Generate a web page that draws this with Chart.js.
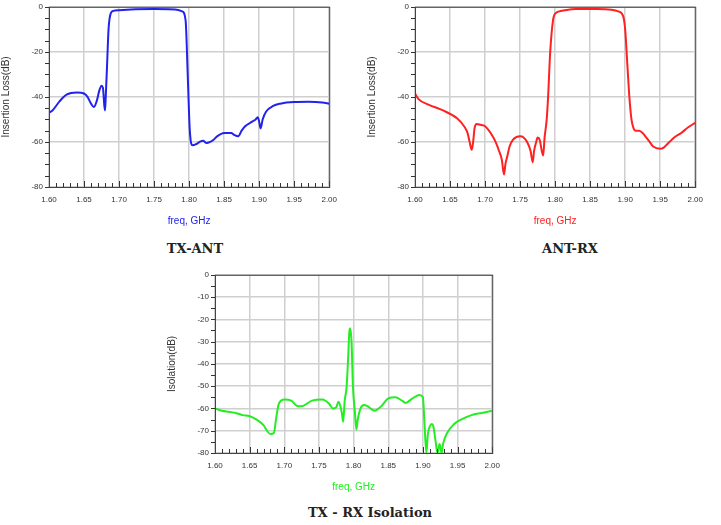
<!DOCTYPE html>
<html>
<head>
<meta charset="utf-8">
<script src="https://cdn.jsdelivr.net/npm/chart.js@4"></script>
<style>
  body { margin: 0; background: #fff; width: 721px; height: 525px; position: relative; overflow: hidden; }
  .box { position: absolute; }
  .cap { position: absolute; font-family: "DejaVu Serif", serif; font-weight: bold; font-size: 13px; color: #222; transform: translateX(-50%); white-space: nowrap; }
</style>
</head>
<body>
<div class="box" style="left:0;top:-4px;width:345px;height:235px"><canvas id="txAnt"></canvas></div>
<div class="box" style="left:366px;top:-4px;width:345px;height:235px"><canvas id="antRx"></canvas></div>
<div class="box" style="left:166px;top:264px;width:342px;height:233px"><canvas id="iso"></canvas></div>
<div class="cap" style="left:195px;top:241px">TX-ANT</div>
<div class="cap" style="left:570px;top:241px">ANT-RX</div>
<div class="cap" style="left:370px;top:505px">TX - RX Isolation</div>
<script>
// dados (freq em GHz, valores em dB)
const txAntFreq = [1.600,1.605,1.615,1.625,1.640,1.650,1.655,1.660,1.664,1.668,1.672,1.675,1.677,1.679,1.680,1.681,1.683,1.685,1.688,1.692,1.700,1.750,1.780,1.790,1.795,1.798,1.801,1.805,1.810,1.815,1.820,1.825,1.830,1.835,1.840,1.850,1.860,1.865,1.870,1.875,1.880,1.890,1.895,1.898,1.900,1.902,1.905,1.910,1.920,1.930,1.950,1.970,1.990,2.000];
const txAntLoss = [-47,-46,-42,-39,-38,-38.5,-40,-43,-44.5,-42,-37,-35,-36,-44,-46,-40,-25,-10,-3,-1.8,-1.5,-1.0,-1.2,-2,-6,-30,-55,-61.5,-61,-60,-59.5,-60.5,-60,-59,-57.5,-56,-56,-57,-57.5,-55,-53,-51,-50,-49,-51,-54,-50,-46.5,-44,-43,-42.3,-42.2,-42.5,-43];

const antRxFreq = [1.600,1.605,1.620,1.640,1.660,1.670,1.675,1.678,1.681,1.683,1.685,1.688,1.695,1.700,1.710,1.715,1.720,1.724,1.727,1.729,1.732,1.735,1.740,1.750,1.755,1.760,1.765,1.768,1.770,1.773,1.775,1.778,1.781,1.783,1.785,1.788,1.790,1.793,1.797,1.800,1.810,1.830,1.860,1.880,1.890,1.897,1.900,1.903,1.906,1.909,1.912,1.915,1.920,1.925,1.930,1.935,1.940,1.950,1.955,1.960,1.970,1.980,1.990,2.000];
const antRxLoss = [-38.5,-41,-43.5,-46,-49.5,-53,-56,-60,-63.5,-60,-54,-52,-52.5,-53,-57,-60,-64,-68,-74.5,-70,-66,-62,-59,-57.5,-58,-60,-64,-69,-64,-60,-58,-59,-64,-66,-58,-50,-40,-20,-6,-3,-1.8,-1,-1,-1.3,-2,-4,-10,-25,-40,-50,-54,-55,-55,-56,-58,-60,-62,-63,-62.5,-61,-58,-56,-53.5,-51.5];

const isoFreq = [1.600,1.610,1.620,1.630,1.640,1.650,1.660,1.670,1.675,1.680,1.685,1.688,1.692,1.700,1.710,1.720,1.725,1.740,1.755,1.765,1.770,1.775,1.778,1.780,1.783,1.785,1.787,1.790,1.792,1.794,1.795,1.797,1.799,1.802,1.804,1.806,1.810,1.815,1.820,1.830,1.840,1.850,1.860,1.870,1.875,1.885,1.895,1.900,1.902,1.905,1.907,1.910,1.913,1.915,1.918,1.921,1.924,1.927,1.929,1.935,1.945,1.955,1.970,1.985,2.000];
const isoDb = [-60,-61,-61.5,-62,-63,-63.5,-65,-67.5,-70,-71.5,-71,-65,-58,-56,-56.5,-59,-59,-56.5,-56,-58,-60,-59.5,-57,-58,-62,-66,-57,-50,-38,-25,-24,-30,-50,-62,-69.5,-65,-60,-58.5,-59,-61,-59,-55.5,-55,-56.5,-57.5,-55.5,-54,-55,-65,-80,-72,-68,-67,-68,-74,-80,-76,-80,-76,-71,-67,-65,-63,-62,-61];

const xTicks = [1.60,1.65,1.70,1.75,1.80,1.85,1.90,1.95,2.00];

// marquinhas menores nos eixos
const minorTicks = {
    id: 'minorTicks',
    afterDraw(chart) {
        const ctx = chart.ctx, x = chart.scales.x, y = chart.scales.y;
        ctx.save();
        ctx.strokeStyle = '#333';
        ctx.lineWidth = 1;
        ctx.beginPath();
        for (let i = 0; i <= 40; i++) {
            const px = Math.round(x.getPixelForValue(1.6 + i * 0.01)) + 0.5;
            ctx.moveTo(px, y.bottom);
            ctx.lineTo(px, y.bottom - (i % 5 === 0 ? 6 : 4));
        }
        for (let v = 0; v >= -80; v -= 5) {
            const py = Math.round(y.getPixelForValue(v)) + 0.5;
            ctx.moveTo(x.left, py);
            ctx.lineTo(x.left - 4, py);
        }
        ctx.stroke();
        ctx.strokeStyle = '#444';
        ctx.strokeRect(x.left + 0.5, y.top + 0.5, x.right - x.left, y.bottom - y.top);
        ctx.restore();
    }
};

function makeChart(id, freq, vals, color, yTitle, yStep) {
    const points = freq.map((f, i) => ({ x: f, y: vals[i] }));
    new Chart(document.getElementById(id), {
        type: 'line',
        data: { datasets: [{ data: points, borderColor: color, borderWidth: 2, pointRadius: 0, cubicInterpolationMode: 'monotone' }] },
        plugins: [minorTicks],
        options: {
            responsive: true,
            maintainAspectRatio: false,
            animation: false,
            layout: { padding: { top: 3, right: 11, left: 0, bottom: 0 } },
            plugins: { legend: { display: false }, tooltip: { enabled: false } },
            scales: {
                x: {
                    type: 'linear', min: 1.6, max: 2.0,
                    afterBuildTicks: s => { s.ticks = xTicks.map(v => ({ value: v })); },
                    afterFit: s => { s.height = 44; },
                    grid: { color: '#cfcfcf', lineWidth: 1.5, drawTicks: false },
                    border: { display: false },
                    ticks: { padding: 8, font: { family: 'Liberation Sans', size: 8 }, color: '#333', maxRotation: 0, callback: v => v.toFixed(2) },
                    title: { display: true, text: 'freq, GHz', color: color, font: { family: 'Liberation Sans', size: 10 }, padding: { top: 4 } }
                },
                y: {
                    min: -80, max: 0,
                    ticks: { stepSize: yStep, padding: 6, font: { family: 'Liberation Sans', size: 8 }, color: '#333' },
                    afterFit: s => { s.width = 49; },
                    grid: { color: '#cfcfcf', lineWidth: 1.5, drawTicks: false },
                    border: { display: false },
                    title: { display: true, text: yTitle, color: '#333', font: { family: 'Liberation Sans', size: 10 }, padding: 0 }
                }
            }
        }
    });
}

makeChart('txAnt', txAntFreq, txAntLoss, '#2222ee', 'Insertion Loss(dB)', 20);
makeChart('antRx', antRxFreq, antRxLoss, '#ff2020', 'Insertion Loss(dB)', 20);
makeChart('iso', isoFreq, isoDb, '#22ee22', 'Isolation(dB)', 10);
</script>
</body>
</html>
